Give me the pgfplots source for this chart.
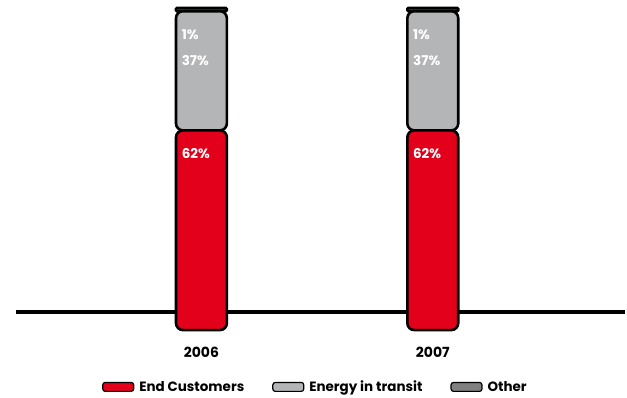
\documentclass[border=0pt]{standalone}
\usepackage{fontspec}
\setmainfont{Poppins}
\usepackage{pgfplots}
\pgfplotsset{compat=1.18}

\definecolor{endred}{HTML}{E2001A}
\definecolor{transitgray}{HTML}{B4B5B7}
\definecolor{othergray}{HTML}{808080}

\begin{document}
\begin{tikzpicture}
\begin{axis}[
  scale only axis,
  width=627pt, height=399pt,
  xmin=-0.8707, xmax=1.8319,
  ymin=-21.05, ymax=102.48,
  clip=false,
  /pgf/number format/assume math mode=true,
  axis line style={draw=none},
  tick style={draw=none},
  ytick=\empty,
  xtick={0,1},
  xticklabels={2006,2007},
  xticklabel style={font=\bfseries\fontsize{14}{15}\selectfont, yshift=54pt},
  ybar stacked,
  bar width=0.22,
  point meta=explicit,
  nodes near coords={\pgfmathprintnumber{\pgfplotspointmeta}\%},
  every node near coord/.append style={
    font=\bfseries\fontsize{13.5}{14}\selectfont, text=white,
    anchor=north west, xshift=-22pt, inner sep=1pt},
  every axis plot/.append style={draw=black, line width=2.6pt},
  legend columns=3,
  legend style={
    at={(0.5045,0.0276)}, anchor=center, draw=none, fill=none,
    font=\bfseries\fontsize{13.5}{14}\selectfont,
    /tikz/every odd column/.append style={column sep=3pt},
    /tikz/every even column/.append style={column sep=26pt},
    inner sep=0pt,
  },
  legend image code/.code={
    \draw[#1, line width=1.2pt, rounded corners=2.5pt] (0pt,-4.5pt) rectangle (31pt,4.5pt);
  },
]
% End customers
\addplot[fill=endred, rounded corners=7pt,
  every node near coord/.append style={yshift=84pt}]
  coordinates {(0,62) [62] (1,62) [62]};
% Energy in transit
\addplot[fill=transitgray, rounded corners=7pt,
  every node near coord/.append style={yshift=18pt}]
  coordinates {(0,37) [37] (1,37) [37]};
% Other
\addplot[fill=othergray, rounded corners=1pt,
  every node near coord/.append style={yshift=-18pt}]
  coordinates {(0,1) [1] (1,1) [1]};
\legend{End Customers, Energy in transit, Other}

% baseline
\draw[black, line width=3.5pt] (axis cs:-0.802,5.57) -- (axis cs:1.8319,5.57);
\end{axis}
\end{tikzpicture}
\end{document}
